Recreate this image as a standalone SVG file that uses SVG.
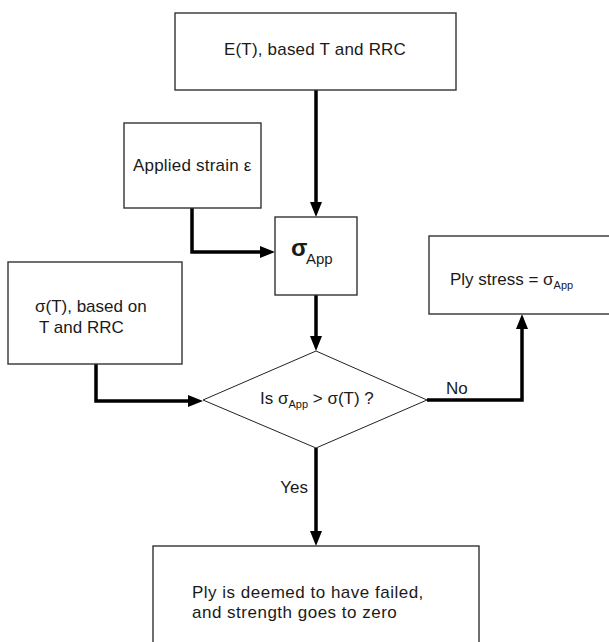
<svg xmlns="http://www.w3.org/2000/svg" width="609" height="642" viewBox="0 0 609 642">
  <defs>
    <style>
      .box { fill: #ffffff; stroke: #333333; stroke-width: 1.4; }
      .dia { fill: #ffffff; stroke: #222222; stroke-width: 1; }
      .wire { fill: none; stroke: #000000; stroke-width: 3.5; stroke-linejoin: miter; }
      text { font-family: "Liberation Sans", Arial, sans-serif; font-size: 17px; fill: #1a1a1a; }
      .sub { font-size: 11px; }
    </style>
  </defs>
  <rect width="609" height="642" fill="#ffffff"/>

  <!-- connectors -->
  <g id="connectors">
    <path class="wire" d="M316,90 V205" />
    <path d="M316,217 L310,202 L322,202 Z" fill="#000"/>
    <path class="wire" d="M192,208 V252 H263" />
    <path d="M275,252 L260,246 L260,258 Z" fill="#000"/>
    <path class="wire" d="M316,295 V339" />
    <path d="M316,351 L310,336 L322,336 Z" fill="#000"/>
    <path class="wire" d="M96,364 V401 H191" />
    <path d="M203,401 L188,395 L188,407 Z" fill="#000"/>
    <path class="wire" d="M427,400 H522 V326" />
    <path d="M522,314 L516,329 L528,329 Z" fill="#000"/>
    <path class="wire" d="M316,448 V534" />
    <path d="M316,546 L310,531 L322,531 Z" fill="#000"/>
    <text x="446" y="394">No</text>
    <text x="308" y="493" text-anchor="end">Yes</text>
  </g>

  <g id="modulus">
    <rect class="box" x="175" y="13" width="281" height="77"/>
    <text x="315" y="55" text-anchor="middle" letter-spacing="0.2">E(T), based T and RRC</text>
  </g>

  <g id="strain">
    <rect class="box" x="124" y="123" width="137" height="85"/>
    <text x="133" y="171" letter-spacing="0.2">Applied strain ε</text>
  </g>

  <g id="applied-stress">
    <rect class="box" x="275" y="217" width="82" height="78"/>
    <text x="291" y="256" style="font-size:24px;font-weight:bold">σ</text>
    <text x="306" y="264" style="font-size:15px">App</text>
  </g>

  <g id="strength">
    <rect class="box" x="8" y="262" width="174" height="102"/>
    <text x="35" y="312">σ(T), based on</text>
    <text x="39" y="333">T and RRC</text>
  </g>

  <g id="decision">
    <polygon class="dia" points="316,351 427,400 316,448 203,400"/>
    <text x="260" y="404">Is σ<tspan class="sub" dy="4">App</tspan><tspan dy="-4"> &gt; σ(T) ?</tspan></text>
  </g>

  <g id="ply-stress">
    <rect class="box" x="429" y="236" width="190" height="78"/>
    <text x="450" y="285">Ply stress = σ<tspan class="sub" dy="4">App</tspan></text>
  </g>

  <g id="failed">
    <rect class="box" x="153" y="546" width="326" height="110"/>
    <text x="192" y="598" letter-spacing="0.5">Ply is deemed to have failed,</text>
    <text x="192" y="618" letter-spacing="0.5">and strength goes to zero</text>
  </g>
</svg>
